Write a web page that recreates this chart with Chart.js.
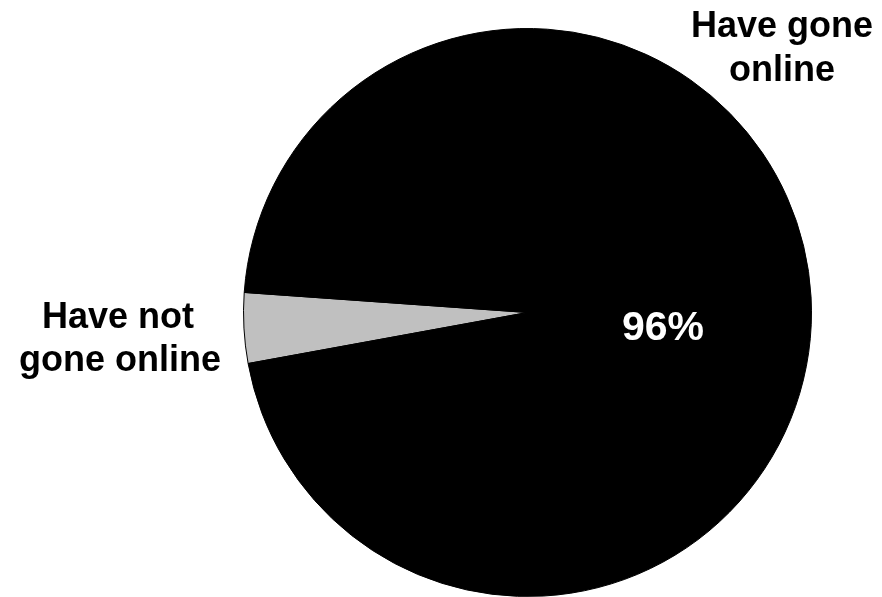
<!DOCTYPE html>
<html>
<head>
<meta charset="utf-8">
<script src="https://cdn.jsdelivr.net/npm/chart.js@4.4.1/dist/chart.umd.min.js"></script>
<style>
  html, body { margin: 0; padding: 0; background: #ffffff; }
  #wrap { width: 882px; height: 597px; position: relative; }
</style>
</head>
<body>
<div id="wrap"><canvas id="c" width="882" height="597"></canvas></div>
<script>
const categories = ["Have not gone online", "Have gone online"];
const values = [4, 96];
const sliceColors = ["#c0c0c0", "#000000"];
const valueLabels = ["", "96%"];

const labelPlugin = {
  id: 'pieLabels',
  afterDraw(chart) {
    const ctx = chart.ctx;
    ctx.save();
    ctx.textAlign = 'center';
    ctx.textBaseline = 'alphabetic';
    ctx.fillStyle = '#000000';
    ctx.font = 'bold 36px "Liberation Sans", Arial, sans-serif';
    // category labels
    ctx.fillText('Have not', 118, 328);
    ctx.fillText('gone online', 120, 371);
    ctx.fillText('Have gone', 782, 37);
    ctx.fillText('online', 782, 81);
    // value label
    ctx.fillStyle = '#ffffff';
    ctx.font = 'bold 41px "Liberation Sans", Arial, sans-serif';
    ctx.fillText(valueLabels[1], 663, 340);
    ctx.restore();
  }
};

new Chart(document.getElementById('c'), {
  type: 'pie',
  data: {
    labels: categories,
    datasets: [{
      data: values,
      backgroundColor: sliceColors,
      borderColor: '#000000',
      borderWidth: 1
    }]
  },
  options: {
    responsive: false,
    animation: false,
    rotation: 259.65,
    layout: { padding: { left: 243, right: 70, top: 28, bottom: 0 } },
    plugins: {
      legend: { display: false },
      tooltip: { enabled: false }
    }
  },
  plugins: [labelPlugin]
});
</script>
</body>
</html>
